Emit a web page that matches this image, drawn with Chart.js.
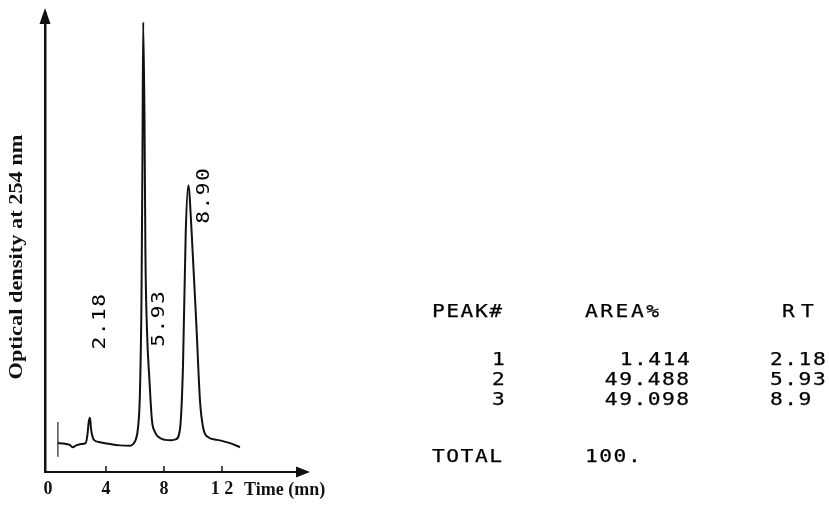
<!DOCTYPE html>
<html><head><meta charset="utf-8">
<script src="https://cdn.jsdelivr.net/npm/chart.js@4.4.1/dist/chart.umd.min.js"></script>
<style>
html,body{margin:0;padding:0;background:#fff;}
#wrap{position:relative;width:829px;height:505px;overflow:hidden;background:#fff;}
#c{position:absolute;left:0;top:0;}
.t{position:absolute;font-family:"DejaVu Sans Mono",monospace;font-size:17px;line-height:17px;letter-spacing:1.2px;color:#000;white-space:pre;transform:scaleX(1.25);transform-origin:0 50%;-webkit-text-stroke:0.25px #000;}
.t.r{transform-origin:100% 50%;}
</style></head><body>
<div id="wrap"><canvas id="c" width="829" height="505"></canvas><div id="table"></div></div>
<script>
// ---- data ----
const times  = [0.69,1.1,1.5,1.72,1.95,2.3,2.6,2.72,2.82,2.9,2.97,3.05,3.17,3.59,4.28,4.97,5.66,5.9,6.07,6.21,6.34,6.45,6.52,6.57,6.66,6.72,6.83,7.0,7.17,7.38,7.72,8.1,8.45,8.8,9.1,9.31,9.5,9.68,9.91,10.26,10.48,10.69,11.03,11.66,12.55,13.24];
const signal = [6.3,6.2,5.9,5.4,5.8,6.1,6.3,8.0,11.0,11.8,9.5,8.0,7.0,6.5,6.1,5.8,5.7,6.2,7.2,9.6,16.8,37.5,70.0,98.0,76.7,48.4,30.9,20.0,11.3,8.7,7.4,7.0,6.9,7.1,9.2,22.9,52.1,62.5,52.1,30.3,15.7,9.8,7.6,7.0,6.3,5.4];
const injectionTime = [0.69,0.69];
const injectionSignal = [3.3,10.9];
const xTicks = [0,4,8,12];
const xTickLabels = ['0','4','8','1 2'];
const peakLabels = ['2.18','5.93','8.90'];
const peakLabelTime = [3.6,7.7,10.8];
const peakLabelSignal = [32.9,33.5,60.3];
const yTitle = 'Optical density at 254 nm';
const xTitle = 'Time (mn)';
const tableHeaders = ['PEAK#','AREA%','RT'];
const tablePeak = ['1','2','3'];
const tableArea = ['1.414','49.488','49.098'];
const tableRT = ['2.18','5.93','8.9'];
const tableTotalLabel = 'TOTAL';
const tableTotal = '100.';

// ---- table (text) ----
const tbl = document.getElementById('table');
function addText(txt, left, top, right, extra){
  const d = document.createElement('div'); d.className='t'; d.textContent = txt;
  d.style.top = top+'px';
  if (right !== undefined && right !== null){ d.style.right = right+'px'; d.className='t r'; } else d.style.left = left+'px';
  if (extra) d.style.letterSpacing = extra;
  tbl.appendChild(d);
}
const headTop = 303, rowTops=[351,371,391], totalTop = 448;
addText(tableHeaders[0],432,headTop);
addText(tableHeaders[1],585,headTop,null,'2px');
addText(tableHeaders[2],782,headTop,null,'5px');
tablePeak.forEach((v,i)=>addText(v,492,rowTops[i]));
tableArea.forEach((v,i)=>addText(v,0,rowTops[i],138));
tableRT.forEach((v,i)=>addText(v,770,rowTops[i]));
addText(tableTotalLabel,432,totalTop);
addText(tableTotal,585,totalTop);

// ---- chart ----
const serif = '"Liberation Serif","Times New Roman",serif';
const mono = '"DejaVu Sans Mono",monospace';
const annot = {
  id:'annot',
  afterDraw(chart){
    const {ctx, chartArea:a, scales:{x,y}} = chart;
    ctx.save();
    ctx.fillStyle='#111'; ctx.strokeStyle='#111';
    // y arrow
    ctx.beginPath(); ctx.moveTo(a.left, a.top-5); ctx.lineTo(a.left-5.5, a.top+11); ctx.lineTo(a.left+5.5, a.top+11); ctx.closePath(); ctx.fill();
    // x arrow
    ctx.beginPath(); ctx.moveTo(a.right+3, a.bottom); ctx.lineTo(a.right-11, a.bottom-5.5); ctx.lineTo(a.right-11, a.bottom+5.5); ctx.closePath(); ctx.fill();
    // tick marks
    ctx.lineWidth=1.5;
    xTicks.forEach(v=>{ if(v===0) return; const px=x.getPixelForValue(v); ctx.beginPath(); ctx.moveTo(px,a.bottom-6); ctx.lineTo(px,a.bottom); ctx.stroke(); });
    // y title
    ctx.save();
    ctx.font = 'bold 19px '+serif;
    const w = ctx.measureText(yTitle).width;
    ctx.translate(17, 257); ctx.rotate(-Math.PI/2); ctx.scale(245/w,1);
    ctx.textAlign='center'; ctx.textBaseline='middle';
    ctx.fillText(yTitle,0,0);
    ctx.restore();
    // x title
    ctx.font = 'bold 18px '+serif; ctx.textAlign='left'; ctx.textBaseline='middle';
    ctx.fillText(xTitle, 244, 490);
    // peak labels
    ctx.font = '17px '+mono; ctx.fillStyle='#000';
    try{ ctx.letterSpacing='1.2px'; }catch(e){}
    peakLabels.forEach((s,i)=>{
      const px=x.getPixelForValue(peakLabelTime[i]), py=y.getPixelForValue(peakLabelSignal[i]);
      ctx.save(); ctx.translate(px,py); ctx.rotate(-Math.PI/2); ctx.scale(1.25,1);
      ctx.textAlign='center'; ctx.textBaseline='middle'; ctx.fillText(s,0,0); ctx.restore();
    });
    ctx.restore();
  }
};
new Chart(document.getElementById('c'), {
  type:'line',
  data:{datasets:[
    {data: times.map((t,i)=>({x:t,y:signal[i]})), borderColor:'#111', borderWidth:2, pointRadius:0, cubicInterpolationMode:'monotone', fill:false},
    {data: injectionTime.map((t,i)=>({x:t,y:injectionSignal[i]})), borderColor:'#222', borderWidth:1.2, pointRadius:0, fill:false}
  ]},
  options:{
    responsive:false, animation:false, events:[],
    layout:{padding:{left:45,right:522,top:13,bottom:0}},
    plugins:{legend:{display:false},tooltip:{enabled:false}},
    scales:{
      x:{type:'linear',min:-0.2,max:17.86,
        afterBuildTicks:s=>{s.ticks = xTicks.map(v=>({value:v}));},
        afterFit:s=>{s.height = 33;},
        ticks:{callback:(v)=>xTickLabels[xTicks.indexOf(v)], font:{family:serif,weight:'bold',size:18}, color:'#111', padding:7, maxRotation:0, autoSkip:false},
        grid:{display:false,drawTicks:false}, border:{display:true,color:'#111',width:2}},
      y:{min:0,max:100, ticks:{display:false}, grid:{display:false,drawTicks:false}, border:{display:true,color:'#111',width:2.5}}
    }
  },
  plugins:[annot]
});
</script>
</body></html>
